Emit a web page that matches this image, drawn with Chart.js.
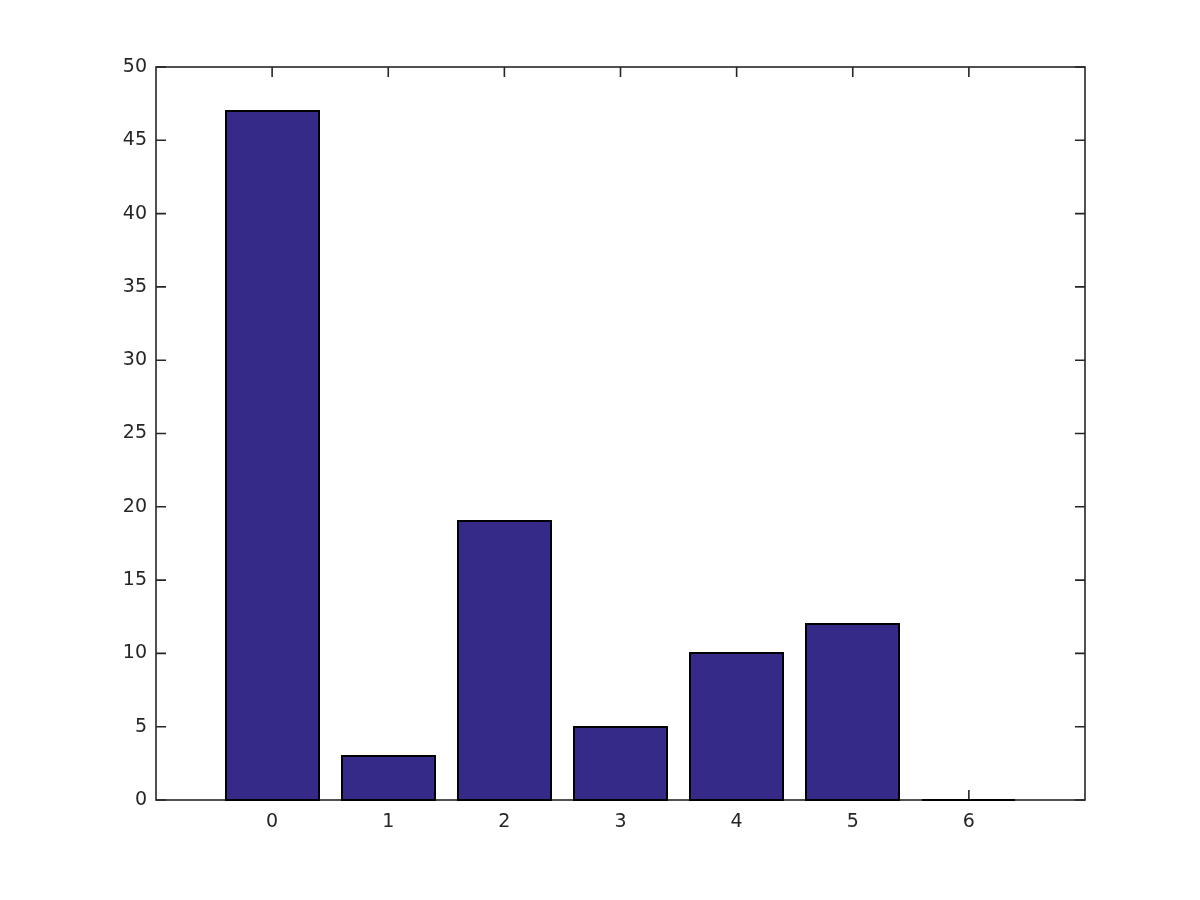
<!DOCTYPE html>
<html>
<head>
<meta charset="utf-8">
<script src="https://cdn.jsdelivr.net/npm/chart.js@4/dist/chart.umd.min.js"></script>
<style>
html,body{margin:0;padding:0;background:#fff;}
#wrap{width:1200px;height:900px;}
</style>
</head>
<body>
<div id="wrap"><canvas id="c" width="1200" height="900"></canvas></div>
<script>
const categories = [0, 1, 2, 3, 4, 5, 6];
const counts = [47, 3, 19, 5, 10, 12, 0];
const yTicks = [0, 5, 10, 15, 20, 25, 30, 35, 40, 45, 50];
const xMin = -1, xMax = 7, yMin = 0, yMax = 50;

const axisColor = '#262626';
const tickLen = 10;

const boxTicks = {
  id: 'boxTicks',
  beforeDatasetsDraw(chart) {
    const ctx = chart.ctx;
    const a = chart.chartArea;
    const xs = chart.scales.x, ys = chart.scales.y;
    ctx.save();
    ctx.strokeStyle = axisColor;
    ctx.lineWidth = 1.6;
    ctx.strokeRect(a.left, a.top, a.right - a.left, a.bottom - a.top);
    ctx.beginPath();
    categories.forEach(v => {
      const x = xs.getPixelForValue(v);
      ctx.moveTo(x, a.bottom); ctx.lineTo(x, a.bottom - tickLen);
      ctx.moveTo(x, a.top); ctx.lineTo(x, a.top + tickLen);
    });
    yTicks.forEach(v => {
      const y = ys.getPixelForValue(v);
      ctx.moveTo(a.left, y); ctx.lineTo(a.left + tickLen, y);
      ctx.moveTo(a.right, y); ctx.lineTo(a.right - tickLen, y);
    });
    ctx.stroke();
    ctx.restore();
  },
  afterDatasetsDraw(chart) {
    const ctx = chart.ctx;
    ctx.save();
    const meta = chart.getDatasetMeta(0);
    ctx.strokeStyle = '#000';
    ctx.lineWidth = 2;
    meta.data.forEach((el) => {
      const p = el.getProps(['x', 'y', 'width', 'base'], true);
      const l = Math.round(p.x - p.width / 2), r = Math.round(p.x + p.width / 2);
      const t = Math.round(p.y), b = Math.round(p.base);
      ctx.beginPath();
      if (t === b) {
        ctx.moveTo(l, b); ctx.lineTo(r, b);
      } else {
        ctx.rect(l, t, r - l, b - t);
      }
      ctx.stroke();
    });
    ctx.restore();
  }
};

new Chart(document.getElementById('c'), {
  type: 'bar',
  data: {
    datasets: [{
      data: categories.map((c, i) => ({ x: c, y: counts[i] })),
      backgroundColor: 'rgb(53,42,135)',
      borderWidth: 0,
      barPercentage: 0.8,
      categoryPercentage: 1.0
    }]
  },
  options: {
    responsive: false,
    animation: false,
    devicePixelRatio: 1,
    layout: { padding: { left: 0, top: 67, right: 115, bottom: 0 } },
    plugins: { legend: { display: false }, tooltip: { enabled: false } },
    scales: {
      x: {
        type: 'linear',
        min: xMin, max: xMax,
        offset: false,
        afterFit(s) { s.height = 100; },
        afterBuildTicks(s) { s.ticks = categories.map(v => ({ value: v })); },
        grid: { display: false, drawTicks: false },
        border: { display: false },
        ticks: {
          padding: 11,
          color: axisColor,
          font: { family: 'DejaVu Sans', size: 19 },
          callback: v => String(v),
          maxRotation: 0, autoSkip: false
        }
      },
      y: {
        min: yMin, max: yMax,
        afterFit(s) { s.width = 156; },
        afterBuildTicks(s) { s.ticks = yTicks.map(v => ({ value: v })); },
        grid: { display: false, drawTicks: false },
        border: { display: false },
        ticks: {
          padding: 9,
          color: axisColor,
          font: { family: 'DejaVu Sans', size: 19 },
          callback: v => String(v)
        }
      }
    }
  },
  plugins: [boxTicks]
});
</script>
</body>
</html>
